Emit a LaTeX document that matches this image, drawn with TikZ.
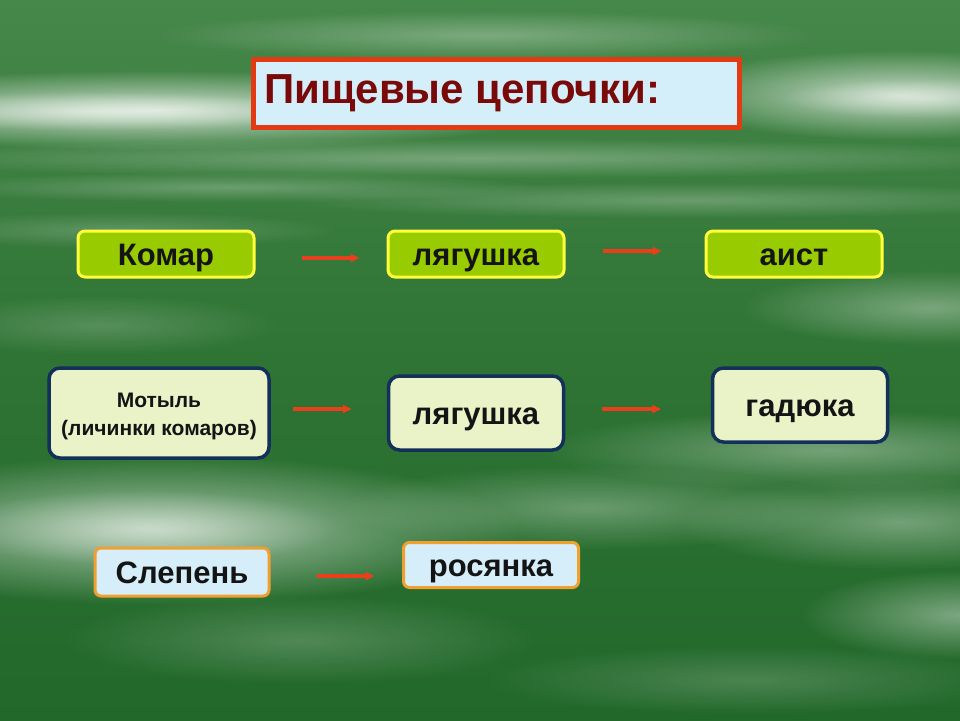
\documentclass[tikz,border=0pt]{standalone}
\usepackage{fontspec}
\setmainfont{Liberation Sans}
\usetikzlibrary{fadings,arrows.meta}
\definecolor{bgtop}{HTML}{46874A}
\definecolor{bgmid}{HTML}{2F7434}
\definecolor{bgbot}{HTML}{22682A}
\definecolor{titlered}{HTML}{E23A12}
\definecolor{titlefill}{HTML}{D4EEFA}
\definecolor{titletext}{HTML}{7A0A0A}
\definecolor{limefill}{HTML}{99CC00}
\definecolor{limeedge}{HTML}{FFFF3C}
\definecolor{creamfill}{HTML}{EAF2C8}
\definecolor{navyedge}{HTML}{12305A}
\definecolor{bluefill}{HTML}{D6EEFA}
\definecolor{orangeedge}{HTML}{F0A030}
\definecolor{arrowred}{HTML}{E8401C}
\definecolor{textdark}{HTML}{141414}
\tikzfading[name=softglow, inner color=transparent!0, outer color=transparent!100]
\tikzset{
  streak/.style={fill=white, path fading=softglow},
  boxtext/.style={font=\bfseries\fontsize{31}{34}\selectfont, text height=22pt, text depth=0pt},
  limebox/.style={draw=limeedge, line width=3pt, fill=limefill, rounded corners=7pt,
    minimum width=176pt, minimum height=46pt, inner sep=0pt, boxtext, text=textdark},
  creambox/.style={draw=navyedge, line width=3.5pt, fill=creamfill, rounded corners=11pt,
    minimum width=175pt, inner sep=0pt, text=textdark},
  bluebox/.style={draw=orangeedge, line width=3pt, fill=bluefill, rounded corners=6pt,
    minimum width=174pt, inner sep=0pt, boxtext, text=textdark},
  chainarrow/.style={draw=arrowred, line width=3.5pt, -{Triangle[length=9pt,width=8pt]}}
}
\begin{document}
\begin{tikzpicture}[x=1pt,y=-1pt]
\useasboundingbox (0,0) rectangle (960,720);
% background
\shade[top color=bgtop, bottom color=bgbot, middle color=bgmid] (0,0) rectangle (960,720);
\begin{scope}
\clip (0,0) rectangle (960,720);
\fill[streak, opacity=0.75] (-250,70) rectangle (560,150);
\fill[streak, opacity=0.5] (-150,92) rectangle (340,130);
\fill[streak, opacity=0.7] (660,50) rectangle (1140,140);
\fill[streak, opacity=0.4] (780,78) rectangle (1080,118);
\fill[streak, opacity=0.3] (150,10) rectangle (820,60);
\fill[streak, opacity=0.3] (-150,138) rectangle (1100,178);
\fill[streak, opacity=0.25] (-80,172) rectangle (540,202);
\fill[streak, opacity=0.25] (280,182) rectangle (1100,218);
\fill[streak, opacity=0.2] (-100,212) rectangle (340,248);
\fill[streak, opacity=0.35] (740,270) rectangle (1120,345);
\fill[streak, opacity=0.18] (-80,295) rectangle (280,355);
\fill[streak, opacity=0.35] (540,410) rectangle (1120,490);
\fill[streak, opacity=0.6] (-200,455) rectangle (520,605);
\fill[streak, opacity=0.4] (-60,490) rectangle (340,565);
\fill[streak, opacity=0.3] (340,465) rectangle (840,550);
\fill[streak, opacity=0.35] (680,475) rectangle (1120,570);
\fill[streak, opacity=0.4] (800,570) rectangle (1120,660);
\fill[streak, opacity=0.2] (60,595) rectangle (540,685);
\fill[streak, opacity=0.18] (480,645) rectangle (1020,715);
\end{scope}
% title
\node[draw=titlered, line width=5pt, fill=titlefill, minimum width=486pt, minimum height=68pt,
  inner sep=0pt, anchor=north west] (title) at (251,57) {};
\node[anchor=base west, text=titletext, font=\bfseries\fontsize{42}{46}\selectfont, inner sep=0pt]
  (titletxt) at (264,103) {Пищевые цепочки:};
% row 1
\node[limebox] (komar) at (166,254) {Комар};
\node[limebox] (frog1) at (476,254) {лягушка};
\node[limebox] (aist) at (794,254) {аист};
\draw[chainarrow] (komar.east) ++(46,4) coordinate (a1s) -- ++(58,0) coordinate (a1e);
\draw[chainarrow] (frog1.east) ++(37,-3) coordinate (a2s) -- ++(59,0) coordinate (a2e);
% row 2
\node[creambox, minimum width=220pt, minimum height=90pt] (motyl) at (159,413) {};
\node[align=center, text=textdark, inner sep=0pt, font=\bfseries\fontsize{21}{28}\selectfont]
  (motyltxt) at (159,416) {Мотыль\\(личинки комаров)};
\node[creambox, minimum height=74pt, boxtext] (frog2) at (476,413) {лягушка};
\node[creambox, minimum height=74pt, boxtext] (gadyuka) at (800,405) {гадюка};
\draw[chainarrow] (motyl.east) ++(22,-4) coordinate (b1s) -- ++(59,0) coordinate (b1e);
\draw[chainarrow] (frog2.east) ++(37,-4) coordinate (b2s) -- ++(59,0) coordinate (b2e);
% row 3
\node[bluebox, minimum height=48pt] (slepen) at (182,572) {Слепень};
\node[bluebox, minimum width=175pt, minimum height=45pt] (rosyanka) at (491,565) {росянка};
\draw[chainarrow] (slepen.east) ++(46,4) coordinate (c1s) -- ++(58,0) coordinate (c1e);
\end{tikzpicture}
\end{document}
